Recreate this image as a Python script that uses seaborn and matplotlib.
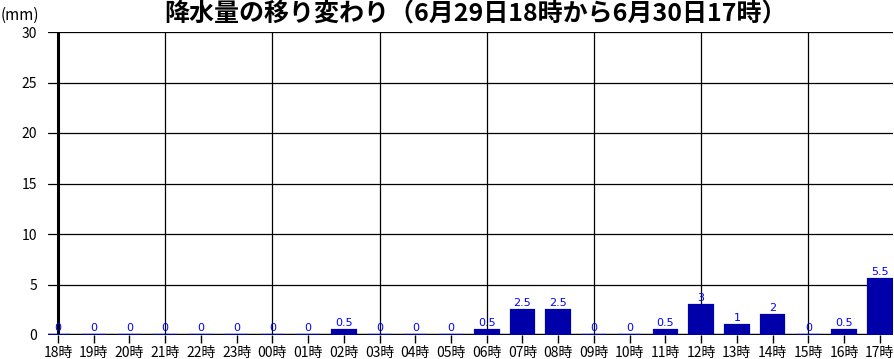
import matplotlib
matplotlib.use("Agg")
import matplotlib.pyplot as plt
import seaborn as sns
import pandas as pd

hours = ["18時", "19時", "20時", "21時", "22時", "23時", "00時", "01時", "02時", "03時",
         "04時", "05時", "06時", "07時", "08時", "09時", "10時", "11時", "12時", "13時",
         "14時", "15時", "16時", "17時"]
rain = [0, 0, 0, 0, 0, 0, 0, 0, 0.5, 0, 0, 0, 0.5, 2.5, 2.5, 0, 0, 0.5, 3, 1, 2, 0, 0.5, 5.5]
yticks = [0, 5, 10, 15, 20, 25, 30]

sns.set_theme(style="white")
plt.rcParams['font.family'] = ['Noto Sans CJK JP', 'DejaVu Sans']

df = pd.DataFrame({"hour": hours, "rain": rain})

W, H = 895, 359
fig = plt.figure(figsize=(W / 100, H / 100), dpi=100)
ax = fig.add_axes([48 / W, (H - 335) / H, (893 - 48) / W, (335 - 32) / H])

bar_color = "#0000aa"
sns.barplot(data=df, x="hour", y="rain", ax=ax, color=bar_color, width=0.66,
            edgecolor=bar_color, linewidth=1.6, saturation=1, zorder=3)

ax.set_xlim(-0.28, 23.37)
ax.set_ylim(0, 30)
ax.set_yticks(yticks)
ax.set_yticklabels([str(v) for v in yticks])

for v in yticks[1:]:
    ax.axhline(v, color="black", lw=0.9, zorder=0)
for i in range(0, 24, 3):
    ax.axvline(i, color="black", lw=2.2 if i == 0 else 0.9, zorder=0)
ax.axhline(0, color="black", lw=2.5, zorder=2)

for s in ax.spines.values():
    s.set_visible(False)

ax.tick_params(axis="y", length=0, pad=8, labelsize=10, colors="black")
ax.tick_params(axis="x", length=6, width=1, direction="out", bottom=True,
               pad=2, labelsize=10, colors="black")
ax.set_xlabel("")
ax.set_ylabel("")

for c in ax.containers:
    ax.bar_label(c, labels=[f"{v:g}" for v in rain], padding=1.5, color="#0000ff",
                 fontsize=8, family="DejaVu Sans")

fig.text(475 / W, 1 - 14 / H, "降水量の移り変わり（6月29日18時から6月30日17時）",
         ha="center", va="center", fontsize=18, fontweight="bold", color="black")
fig.text(1 / W, 1 - 15 / H, "(mm)", ha="left", va="center", fontsize=11, color="black")

fig.savefig("out.png", dpi=100)
